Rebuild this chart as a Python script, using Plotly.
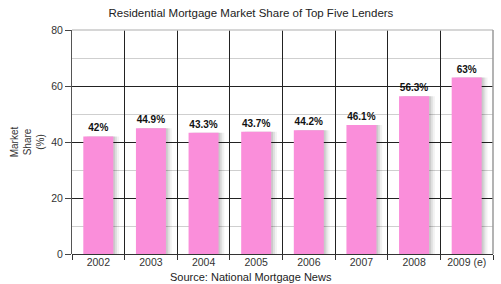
import plotly.graph_objects as go

years = ["2002", "2003", "2004", "2005", "2006", "2007", "2008", "2009 (e)"]
share = [42, 44.9, 43.3, 43.7, 44.2, 46.1, 56.3, 63]
labels = ["42%", "44.9%", "43.3%", "43.7%", "44.2%", "46.1%", "56.3%", "63%"]

BW = 0.57
fig = go.Figure()
# soft drop shadow
for dx, col in [(0.11, "rgba(0,0,0,0.05)"), (0.07, "rgba(0,0,0,0.08)"), (0.035, "rgba(0,0,0,0.09)")]:
    fig.add_trace(go.Bar(x=years, y=share, width=BW, offset=-BW / 2 + dx,
                         marker=dict(color=col, line=dict(width=0)),
                         hoverinfo="skip", showlegend=False))
fig.add_trace(go.Bar(x=years, y=share, width=BW, offset=-BW / 2,
                     marker=dict(color="#FA8EDA", line=dict(width=0)),
                     text=labels, textposition="outside", cliponaxis=False,
                     textfont=dict(family="Liberation Sans, Arial", size=10, color="#111"),
                     texttemplate="<b>%{text}</b>", showlegend=False))

fig.update_layout(
    width=501, height=284, barmode="overlay",
    margin=dict(l=72, r=8, t=30, b=30),
    paper_bgcolor="white", plot_bgcolor="white",
    font=dict(family="Liberation Sans, Arial", size=10, color="#333"),
    title=dict(text="Residential Mortgage Market Share of Top Five Lenders",
               x=0.425, xref="paper", xanchor="center", y=0.955, yanchor="middle",
               font=dict(size=11.5, color="#222")),
    xaxis=dict(type="category", tickson="boundaries", showgrid=True,
               gridcolor="#222", gridwidth=1, ticks="outside", ticklen=5,
               tickcolor="#333", showline=False, zeroline=False,
               tickfont=dict(size=10.5, color="#333")),
    yaxis=dict(range=[0, 80], dtick=20, showgrid=True, gridcolor="#222",
               gridwidth=1, ticks="outside", ticklen=6, tickcolor="#444",
               showline=True, linecolor="#555", linewidth=1,
               zeroline=True, zerolinecolor="#333", zerolinewidth=1,
               minor=dict(dtick=10, showgrid=True, gridcolor="#cfcfcf", gridwidth=1),
               tickfont=dict(size=10.5, color="#333"),
               title=dict(text="Market<br>Share<br>(%)", standoff=4,
                          font=dict(size=10, color="#333"))),
    shapes=[
        dict(type="line", xref="paper", yref="paper", x0=0, x1=1, y0=1, y1=1,
             line=dict(color="#c8c8c8", width=1.5), layer="above"),
        dict(type="line", xref="paper", yref="paper", x0=1, x1=1, y0=0, y1=1,
             line=dict(color="#9a9a9a", width=1.5), layer="above"),
    ],
    annotations=[dict(text="Source: National Mortgage News", xref="paper", yref="paper",
                      x=0.425, y=0, yshift=-15, xanchor="center", yanchor="top",
                      showarrow=False, font=dict(size=11, color="#222"))],
)

fig.write_html("out.html")
